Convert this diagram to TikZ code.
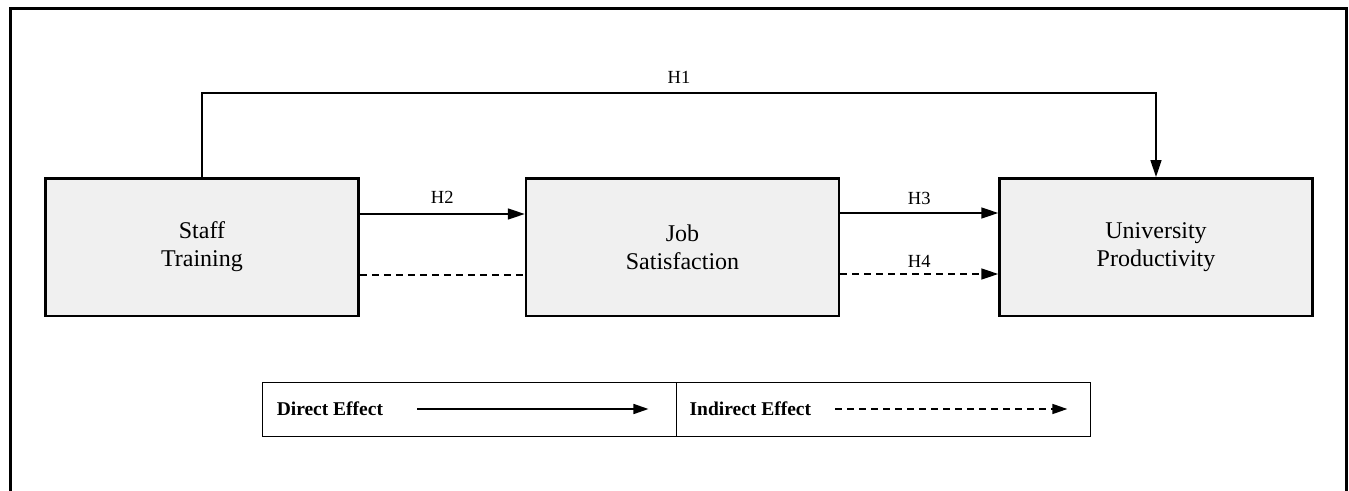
\documentclass[tikz,border=0pt]{standalone}
\usepackage{fontspec}
\setmainfont{Liberation Serif}
\usetikzlibrary{arrows.meta, positioning}
\tikzset{
    varbox/.style={rectangle, draw=black, line width=2.5pt, fill=gray!12, minimum width=313pt, minimum height=137.5pt, align=center, font=\fontsize{24}{28}\selectfont},
    arrow/.style={-{Triangle[length=17pt,width=11pt]}, line width=1.6pt},
    dashedline/.style={line width=1.6pt, dash pattern=on 7pt off 5pt},
    legendarrow/.style={-{Triangle[length=15pt,width=10pt]}, line width=1.6pt},
    hlabel/.style={font=\fontsize{18.5}{20}\selectfont, inner sep=2pt},
    legendcell/.style={rectangle, draw=black, line width=0.9pt, minimum width=414pt, minimum height=54pt},
    legendtext/.style={font=\bfseries\fontsize{19.5}{22}\selectfont, anchor=west, inner sep=0pt},
}
\begin{document}
\begin{tikzpicture}[x=1pt, y=-1pt]
\useasboundingbox (0,0) rectangle (1349,490);
% outer frame
\draw[line width=3pt] (10,496) -- (10,8) -- (1346,8) -- (1346,496);

% variables
\node[varbox] (st) at (202,247) {Staff\\Training};
\node[varbox, right=165pt of st] (js) {Job\\Satisfaction};
\node[varbox, right=158pt of js] (up) {University\\Productivity};

% hypotheses
\draw[arrow] (st.north) -- ++(0,-84) -| node[hlabel, pos=0.25, above=7pt] {H1} (up.north);
\draw[arrow] ([yshift=33pt]st.east) -- node[hlabel, above=8pt] {H2} ([yshift=33pt]js.west);
\draw[dashedline] ([yshift=-28pt]st.east) -- ([yshift=-28pt]js.west);
\draw[arrow] ([yshift=34pt]js.east) -- node[hlabel, above=6pt] {H3} ([yshift=34pt]up.west);
\draw[arrow, dashedline] ([yshift=-27pt]js.east) -- node[hlabel, above=4pt] {H4} ([yshift=-27pt]up.west);

% legend
\node[legendcell] (dleg) at (469,409) {};
\node[legendcell, right=0pt of dleg] (ileg) {};
\node[legendtext] (dtext) at ([xshift=15pt]dleg.west) {Direct Effect};
\node[legendtext] (itext) at ([xshift=13pt]ileg.west) {Indirect Effect};
\draw[legendarrow] ([xshift=34pt]dtext.east) -- ([xshift=-28pt]dleg.east);
\draw[legendarrow, dashedline] ([xshift=24pt]itext.east) -- ([xshift=-24pt]ileg.east);
\end{tikzpicture}
\end{document}
